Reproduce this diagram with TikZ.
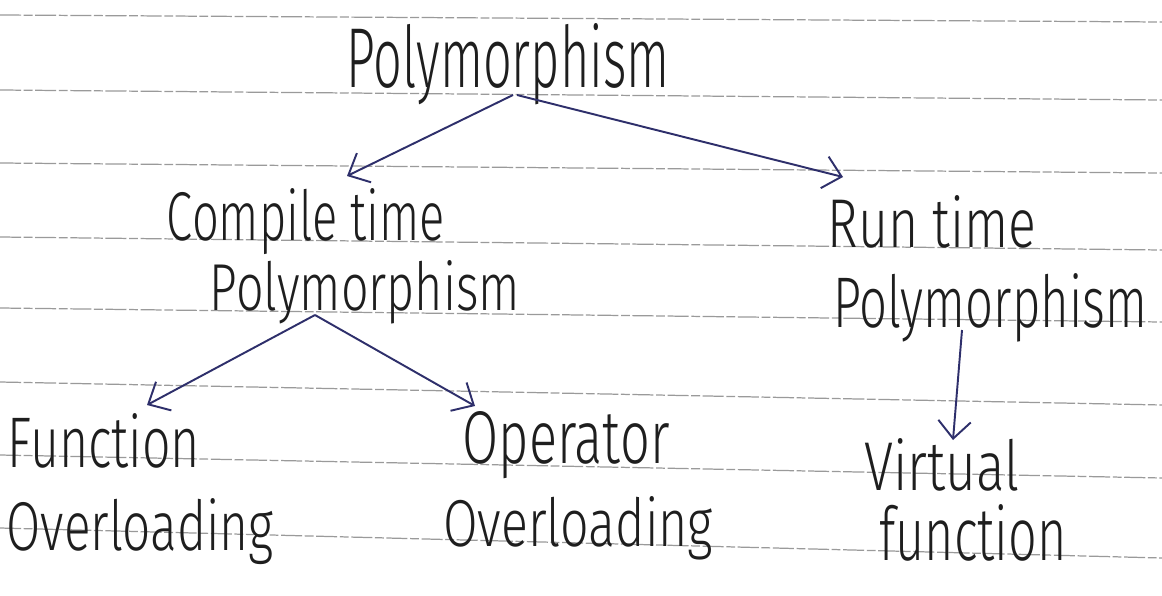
\documentclass[tikz,border=0pt]{standalone}
\usepackage{fontspec}
\setmainfont{Fira Sans Light}
\usepackage{tikz}
\usetikzlibrary{
    arrows.meta,
    calc
}
\newlength\px
\setlength\px{0.02cm}
% squeeze a word into a given width and height (in px)
\newcommand\hw[3]{\resizebox{#1\px}{#2\px}{#3}}
\definecolor{ink}{HTML}{1E1E1E}
\definecolor{pen}{HTML}{2E2F6B}
\definecolor{linegray}{HTML}{9A9A9A}
\tikzset{
    every picture/.style = {
        > = {Straight Barb[length=3.5mm, width=6.5mm]},
        x = 0.02cm,
        y = -0.02cm
    },
    hand/.style = {
        inner sep = 0pt,
        outer sep = 0pt,
        anchor = base,
        text = ink
    },
    ruled/.style = {
        linegray,
        line width = 0.7pt,
        dash pattern = on 12pt off 1.5pt on 5pt off 1.5pt
    },
    branch/.style = {
        ->,
        pen,
        line width = 1.1pt
    }
}

\begin{document}
\begin{tikzpicture}
    \useasboundingbox (0,0) rectangle (1162,595);
    \fill[white] (0,0) rectangle (1162,595);
    % ruled paper
    \foreach \l/\r in {15/22, 90/100, 163/173, 237/250, 308/322, 382/405, 455/478, 528/558}
        \draw[ruled] (0,\l) -- (1162,\r);

    \node[hand] (top) at (508,87) {\hw{323}{64}{Polymorphism}};

    \node[hand] (cmp1) at (306,240) {\hw{278}{52}{Compile time}};
    \node[hand] (cmp2) at (365,310) {\hw{310}{50}{Polymorphism}};

    \node[hand] (run1) at (932,247) {\hw{209}{52}{Run time}};
    \node[hand] (run2) at (990,327) {\hw{314}{54}{Polymorphism}};

    \node[hand] (fn1) at (104,467) {\hw{192}{54}{Function}};
    \node[hand] (fn2) at (140,550) {\hw{267}{52}{Overloading}};

    \node[hand] (op1) at (566,463) {\hw{207}{52}{Operator}};
    \node[hand] (op2) at (578,546) {\hw{270}{50}{Overloading}};

    \node[hand] (vf1) at (942,490) {\hw{155}{52}{Virtual}};
    \node[hand] (vf2) at (973,560) {\hw{187}{56}{function}};

    \draw[branch] ($(top.base)+(5,8)$) -- ($(cmp1.base)+(41,-64)$);
    \draw[branch] ($(top.base)+(9,8)$) -- ($(run1.base)+(-89,-70)$);
    \draw[branch] ($(cmp2.base)+(-50,5)$) -- ($(fn1.base)+(43,-62)$);
    \draw[branch] ($(cmp2.base)+(-50,5)$) -- ($(op1.base)+(-91,-57)$);
    \draw[branch] ($(run2.base)+(-28,3)$) -- ($(vf1.base)+(11,-50)$);
\end{tikzpicture}
\end{document}
